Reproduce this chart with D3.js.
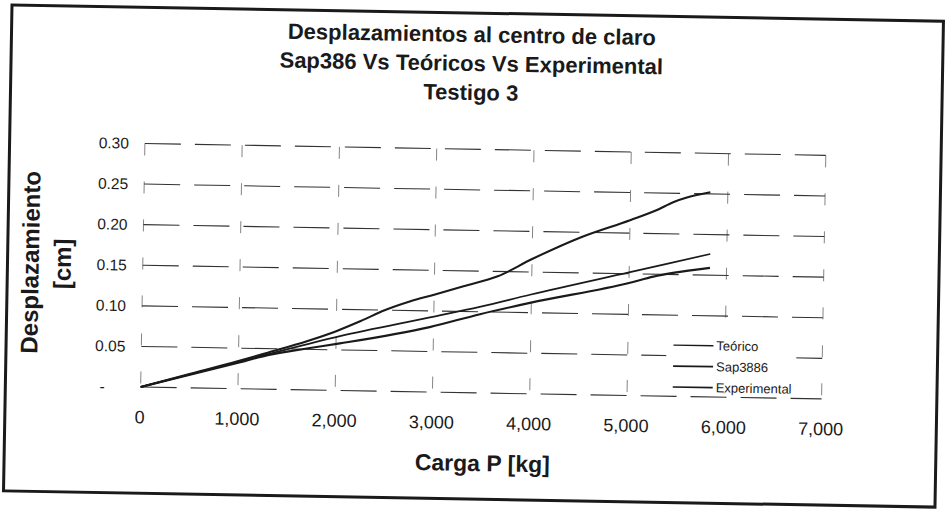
<!DOCTYPE html>
<html>
<head>
<meta charset="utf-8">
<script src="https://cdn.jsdelivr.net/npm/d3@7/dist/d3.min.js"></script>
<style>
  html, body { margin: 0; padding: 0; background: #fff; }
  svg { display: block; font-family: "Liberation Sans", Arial, sans-serif; }
</style>
</head>
<body>
<svg id="chart" width="948" height="509"></svg>
<script>
// Load P [kg] and mid-span deflection [cm] for each series
const cargaExperimental = [0, 500, 1000, 1300, 1700, 2000, 2250, 2500, 2750, 3000, 3300, 3650, 4000, 4500, 5000, 5275, 5440, 5580, 5820];
const despExperimental  = [0, 0.017, 0.034, 0.045, 0.060, 0.073, 0.086, 0.100, 0.111, 0.120, 0.131, 0.144, 0.166, 0.194, 0.216, 0.229, 0.239, 0.245, 0.252];

const cargaTeorico = [0, 1000, 1300, 2040, 2960, 3470, 3985, 5010, 5830];
const despTeorico  = [0, 0.033, 0.043, 0.067, 0.092, 0.106, 0.122, 0.152, 0.176];

const cargaSap = [0, 1000, 1300, 1700, 2040, 2960, 3475, 3985, 5010, 5250, 5450, 5830];
const despSap  = [0, 0.032, 0.042, 0.051, 0.058, 0.080, 0.097, 0.112, 0.139, 0.147, 0.152, 0.159];

const xTicks = [0, 1000, 2000, 3000, 4000, 5000, 6000, 7000];
const yTicks = [0, 0.05, 0.10, 0.15, 0.20, 0.25, 0.30];

const titleLines = ["Desplazamientos al centro de claro", "Sap386 Vs Teóricos Vs Experimental", "Testigo 3"];
const legendNames = ["Teórico", "Sap3886", "Experimental"];

const ink = "#1a1a1a";
// the whole sheet sits slightly tilted on the page
const svg = d3.select("#chart").append("g").attr("transform", "rotate(1,472,255)");

const x = d3.scaleLinear().domain([0, 7000]).range([143, 824]);
const y = d3.scaleLinear().domain([0, 0.30]).range([392.8, 149.2]);

// outer chart frame
svg.append("rect")
  .attr("x", 7.7).attr("y", 13).attr("width", 931.6).attr("height", 486)
  .attr("fill", "none").attr("stroke", ink).attr("stroke-width", 3);

// title
svg.append("g").selectAll("text").data(titleLines).join("text")
  .attr("x", 468).attr("y", (d, i) => 42 + i * 29)
  .attr("text-anchor", "middle")
  .attr("font-size", 22).attr("font-weight", "bold").attr("fill", ink)
  .text(d => d);

// dashed gridlines
const grid = svg.append("g");
grid.selectAll("line.v").data(xTicks).join("line").attr("class", "v")
  .attr("x1", d => x(d)).attr("x2", d => x(d))
  .attr("y1", y(0.30)).attr("y2", y(0))
  .attr("stroke", "#777").attr("stroke-width", 0.9)
  .attr("stroke-dasharray", "12,26");
grid.selectAll("line.h").data(yTicks).join("line").attr("class", "h")
  .attr("x1", x(0)).attr("x2", x(7000))
  .attr("y1", d => y(d)).attr("y2", d => y(d))
  .attr("stroke", "#333").attr("stroke-width", 1.1)
  .attr("stroke-dasharray", "36,14");

// y axis labels
const yAxis = d3.axisLeft(y).tickValues(yTicks).tickSize(0).tickPadding(0)
  .tickFormat(d => d === 0 ? "-" : d3.format(".2f")(d));
const gy = svg.append("g").attr("transform", "translate(127,0)").call(yAxis);
gy.select(".domain").remove();
gy.selectAll("text").attr("font-size", 15.5).attr("fill", ink)
  .attr("font-family", "Liberation Sans, Arial, sans-serif")
  .attr("dx", d => d === 0 ? -20 : 0);

// x axis labels
const xAxis = d3.axisBottom(x).tickValues(xTicks).tickSize(0).tickPadding(0)
  .tickFormat(d3.format(","));
const gx = svg.append("g").attr("transform", "translate(-1,0)").call(xAxis);
gx.select(".domain").remove();
gx.selectAll("text").attr("font-size", 18).attr("fill", ink)
  .attr("font-family", "Liberation Sans, Arial, sans-serif")
  .attr("y", 429).attr("dy", 0);

// axis titles
svg.append("text").attr("x", 486).attr("y", 471)
  .attr("text-anchor", "middle").attr("font-size", 23).attr("font-weight", "bold")
  .attr("fill", ink).text("Carga P [kg]");
svg.append("text").attr("transform", "translate(39,270) rotate(-90)")
  .attr("text-anchor", "middle").attr("font-size", 24).attr("font-weight", "bold")
  .attr("fill", ink).text("Desplazamiento");
svg.append("text").attr("transform", "translate(71,271) rotate(-90)")
  .attr("text-anchor", "middle").attr("font-size", 24).attr("font-weight", "bold")
  .attr("fill", ink).text("[cm]");

// series
const series = [
  { name: legendNames[0], xs: cargaTeorico, ys: despTeorico, w: 1.7 },
  { name: legendNames[1], xs: cargaSap, ys: despSap, w: 2.1 },
  { name: legendNames[2], xs: cargaExperimental, ys: despExperimental, w: 2.1 }
];
const line = d3.line().x(d => x(d[0])).y(d => y(d[1])).curve(d3.curveMonotoneX);
svg.append("g").selectAll("path").data(series).join("path")
  .attr("d", s => line(s.xs.map((v, i) => [v, s.ys[i]])))
  .attr("fill", "none").attr("stroke", ink)
  .attr("stroke-width", s => s.w).attr("stroke-linejoin", "round");

// legend (borderless, white backing)
svg.append("rect").attr("x", 668).attr("y", 331).attr("width", 130).attr("height", 58)
  .attr("fill", "#fff");
const lg = svg.append("g").selectAll("g").data(series).join("g")
  .attr("transform", (d, i) => `translate(675,${341.5 + i * 21})`);
lg.append("line").attr("x1", 0).attr("x2", 40)
  .attr("stroke", ink).attr("stroke-width", s => s.w - 0.4);
lg.append("text").attr("x", 43).attr("dy", "0.35em")
  .attr("font-size", 13).attr("fill", ink).text(d => d.name);
</script>
</body>
</html>
